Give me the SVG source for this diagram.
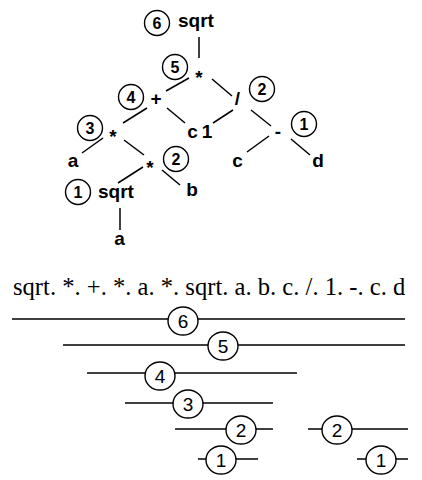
<svg xmlns="http://www.w3.org/2000/svg" width="422" height="480" viewBox="0 0 422 480">
<style>
.lbl{font-family:"Liberation Sans",Arial,sans-serif;font-weight:bold;font-size:19px;fill:#000}
.mid{text-anchor:middle}
.tc{fill:#fff;stroke:#000;stroke-width:1.4}
.tn{font-family:"Liberation Sans",Arial,sans-serif;font-weight:bold;font-size:16px;text-anchor:middle;fill:#000}
.bc{fill:#fff;stroke:#000;stroke-width:1.4}
.bn{font-family:"Liberation Sans",Arial,sans-serif;font-size:19px;text-anchor:middle;fill:#000}
.edge{stroke:#000;stroke-width:1.5;fill:none}
.bar{stroke:#000;stroke-width:1.5;fill:none}
.seq{font-family:"Liberation Serif","Times New Roman",serif;font-size:24.6px;fill:#000}
</style>
<g id="connectors">
<line class="edge" x1="199" y1="37" x2="199" y2="58"/>
<line class="edge" x1="166" y1="91" x2="189" y2="78"/>
<line class="edge" x1="212" y1="79" x2="232" y2="96"/>
<line class="edge" x1="123" y1="123" x2="147" y2="108"/>
<line class="edge" x1="167" y1="108" x2="185" y2="123"/>
<line class="edge" x1="213" y1="123" x2="233" y2="110"/>
<line class="edge" x1="251" y1="110" x2="271" y2="126"/>
<line class="edge" x1="82" y1="153" x2="103" y2="138"/>
<line class="edge" x1="124" y1="140" x2="144" y2="155"/>
<line class="edge" x1="247" y1="152" x2="269" y2="136"/>
<line class="edge" x1="291" y1="139" x2="310" y2="155"/>
<line class="edge" x1="118" y1="183" x2="143" y2="167"/>
<line class="edge" x1="162" y1="170" x2="180" y2="185"/>
<line class="edge" x1="120" y1="208" x2="120" y2="230"/>
</g>
<g id="n-sqrt-top">
<circle class="tc" cx="157" cy="23" r="12.5"/><text class="tn" x="157" y="29">6</text>
<text class="lbl" x="178" y="27">sqrt</text>
</g>
<g id="n-mul-top">
<circle class="tc" cx="175" cy="67" r="12.5"/><text class="tn" x="175" y="73">5</text>
<text class="lbl mid" x="199" y="84">*</text>
</g>
<g id="n-plus">
<circle class="tc" cx="131" cy="97" r="12.5"/><text class="tn" x="131" y="103">4</text>
<text class="lbl mid" x="156" y="105">+</text>
</g>
<g id="n-div">
<circle class="tc" cx="262" cy="89" r="12.5"/><text class="tn" x="262" y="95">2</text>
<text class="lbl mid" x="237.5" y="105">/</text>
</g>
<g id="n-mul-left">
<circle class="tc" cx="90" cy="128" r="12.5"/><text class="tn" x="90" y="134">3</text>
<text class="lbl mid" x="113" y="143">*</text>
</g>
<g id="n-c-plus"><text class="lbl mid" x="192.5" y="138">c</text></g>
<g id="n-one"><text class="lbl mid" x="207" y="138">1</text></g>
<g id="n-minus">
<circle class="tc" cx="304" cy="124" r="12.5"/><text class="tn" x="304" y="130">1</text>
<text class="lbl mid" x="278" y="138">-</text>
</g>
<g id="n-a-left"><text class="lbl mid" x="73" y="167">a</text></g>
<g id="n-mul-mid">
<circle class="tc" cx="176" cy="159" r="12.5"/><text class="tn" x="176" y="165">2</text>
<text class="lbl mid" x="150" y="174">*</text>
</g>
<g id="n-c-right"><text class="lbl mid" x="237.5" y="167">c</text></g>
<g id="n-d"><text class="lbl mid" x="318" y="167">d</text></g>
<g id="n-sqrt-low">
<circle class="tc" cx="78" cy="192" r="12.5"/><text class="tn" x="78" y="198">1</text>
<text class="lbl" x="98" y="198">sqrt</text>
</g>
<g id="n-b"><text class="lbl mid" x="192" y="196">b</text></g>
<g id="n-a-low"><text class="lbl mid" x="119.5" y="245">a</text></g>
<text id="sequence" class="seq" x="13" y="295">sqrt. *. +. *. a. *. sqrt. a. b. c. /. 1. -. c. d</text>
<g id="bar6"><line class="bar" x1="12" y1="319" x2="405" y2="319"/><ellipse class="bc" cx="183" cy="321" rx="15" ry="14"/><text class="bn" x="183" y="328">6</text></g>
<g id="bar5"><line class="bar" x1="63" y1="345" x2="405" y2="345"/><ellipse class="bc" cx="223" cy="346" rx="15" ry="14"/><text class="bn" x="223" y="353">5</text></g>
<g id="bar4"><line class="bar" x1="87" y1="373" x2="297" y2="373"/><ellipse class="bc" cx="160" cy="376" rx="15" ry="14"/><text class="bn" x="160" y="383">4</text></g>
<g id="bar3"><line class="bar" x1="125" y1="403" x2="273" y2="403"/><ellipse class="bc" cx="188" cy="404" rx="15" ry="14"/><text class="bn" x="188" y="411">3</text></g>
<g id="bar2a"><line class="bar" x1="175" y1="429" x2="273" y2="429"/><ellipse class="bc" cx="241" cy="430" rx="15" ry="14"/><text class="bn" x="241" y="437">2</text></g>
<g id="bar2b"><line class="bar" x1="308" y1="429" x2="408" y2="429"/><ellipse class="bc" cx="337" cy="430" rx="15" ry="14"/><text class="bn" x="337" y="437">2</text></g>
<g id="bar1a"><line class="bar" x1="198" y1="459" x2="258" y2="459"/><ellipse class="bc" cx="221" cy="460" rx="15" ry="14"/><text class="bn" x="221" y="467">1</text></g>
<g id="bar1b"><line class="bar" x1="357" y1="459" x2="408" y2="459"/><ellipse class="bc" cx="381" cy="460" rx="15" ry="14"/><text class="bn" x="381" y="467">1</text></g>
</svg>
